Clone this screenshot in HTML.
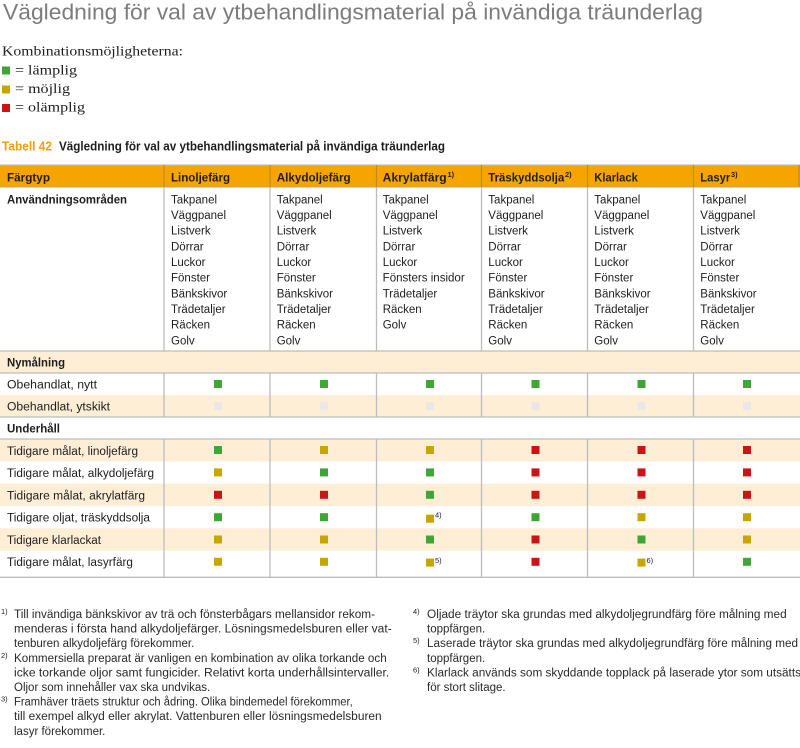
<!DOCTYPE html>
<html><head><meta charset="utf-8"><style>
html,body{margin:0;padding:0;background:#fff;width:800px;height:748px;overflow:hidden}
svg{display:block}
text{font-family:"Liberation Sans",sans-serif;fill:#1e1e1e}
.b{font-weight:bold}
.c{font-size:11.5px}
.s{font-size:7.5px}
.f{font-size:11.5px;fill:#2a2a2a}
</style></head><body>
<svg width="800" height="748" viewBox="0 0 800 748" xmlns="http://www.w3.org/2000/svg">
<!-- Title -->
<text x="3" y="19.5" style="font-size:22.5px;fill:#7c7c7c" textLength="700" lengthAdjust="spacingAndGlyphs">Vägledning för val av ytbehandlingsmaterial på invändiga träunderlag</text>
<!-- Legend -->
<text x="2" y="55.5" style="font-family:'Liberation Serif',serif;font-size:14px" textLength="181" lengthAdjust="spacingAndGlyphs">Kombinationsmöjligheterna:</text>
<rect x="2" y="66.5" width="8" height="8" fill="#3fa535"/>
<rect x="2" y="85.5" width="8" height="8" fill="#c8a600"/>
<rect x="2" y="104" width="8" height="8" fill="#cc1316"/>
<text x="15" y="74.5" style="font-family:'Liberation Serif',serif;font-size:14px" textLength="62" lengthAdjust="spacingAndGlyphs">= lämplig</text>
<text x="15" y="93" style="font-family:'Liberation Serif',serif;font-size:14px" textLength="55" lengthAdjust="spacingAndGlyphs">= möjlig</text>
<text x="15" y="111.5" style="font-family:'Liberation Serif',serif;font-size:14px" textLength="70" lengthAdjust="spacingAndGlyphs">= olämplig</text>
<!-- Caption -->
<text x="2" y="150.5" class="b" style="font-size:12.5px;fill:#f0a000" textLength="50" lengthAdjust="spacingAndGlyphs">Tabell 42</text>
<text x="59" y="150.5" class="b" style="font-size:12.5px" textLength="386" lengthAdjust="spacingAndGlyphs">Vägledning för val av ytbehandlingsmaterial på invändiga träunderlag</text>

<!-- Table backgrounds -->
<rect x="0" y="165" width="800" height="22" fill="#f6a500"/>
<rect x="0" y="351" width="800" height="22" fill="#fdeed5"/>
<rect x="0" y="395" width="800" height="22" fill="#fdeed5"/>
<rect x="0" y="439" width="800" height="22.3" fill="#fdeed5"/>
<rect x="0" y="483.7" width="800" height="22.3" fill="#fdeed5"/>
<rect x="0" y="528.3" width="800" height="22.4" fill="#fdeed5"/>

<!-- horizontal lines -->
<g stroke="#bdbdbd" stroke-width="1.3">
<line x1="0" y1="165" x2="800" y2="165"/>
<line x1="0" y1="351" x2="800" y2="351"/>
<line x1="0" y1="373" x2="800" y2="373"/>
<line x1="0" y1="417" x2="800" y2="417"/>
<line x1="0" y1="439" x2="800" y2="439"/>
<line x1="0" y1="577.3" x2="800" y2="577.3"/>
</g>
<line x1="0" y1="187" x2="800" y2="187" stroke="#c9a46a" stroke-width="1"/>
<!-- header dividers -->
<g stroke="#c08a20" stroke-width="1.2">
<line x1="164" y1="165" x2="164" y2="187"/>
<line x1="270" y1="165" x2="270" y2="187"/>
<line x1="376.5" y1="165" x2="376.5" y2="187"/>
<line x1="481.5" y1="165" x2="481.5" y2="187"/>
<line x1="587.5" y1="165" x2="587.5" y2="187"/>
<line x1="693.5" y1="165" x2="693.5" y2="187"/>
<line x1="799" y1="165" x2="799" y2="187"/>
</g>
<!-- body dividers -->
<g stroke="#bdbdbd" stroke-width="1.3">
<path d="M164 187V351M270 187V351M376.5 187V351M481.5 187V351M587.5 187V351M693.5 187V351"/>
<path d="M164 373V417M270 373V417M376.5 373V417M481.5 373V417M587.5 373V417M693.5 373V417"/>
<path d="M164 439V577M270 439V577M376.5 439V577M481.5 439V577M587.5 439V577M693.5 439V577"/>
</g>

<!-- Header text -->
<text x="7" y="181.5" class="b" style="font-size:12px" textLength="43" lengthAdjust="spacingAndGlyphs">Färgtyp</text>
<text x="171" y="181.5" class="b" style="font-size:12px" textLength="59" lengthAdjust="spacingAndGlyphs">Linoljefärg</text>
<text x="276.7" y="181.5" class="b" style="font-size:12px" textLength="74" lengthAdjust="spacingAndGlyphs">Alkydoljefärg</text>
<text x="382.7" y="181.5" class="b" style="font-size:12px" textLength="64" lengthAdjust="spacingAndGlyphs">Akrylatfärg</text>
<text x="447.5" y="177" class="b s">1)</text>
<text x="488.3" y="181.5" class="b" style="font-size:12px" textLength="76" lengthAdjust="spacingAndGlyphs">Träskyddsolja</text>
<text x="565" y="177" class="b s">2)</text>
<text x="594.3" y="181.5" class="b" style="font-size:12px" textLength="43.5" lengthAdjust="spacingAndGlyphs">Klarlack</text>
<text x="700.3" y="181.5" class="b" style="font-size:12px" textLength="30" lengthAdjust="spacingAndGlyphs">Lasyr</text>
<text x="731" y="177" class="b s">3)</text>

<!-- Usage row -->
<text x="7" y="203.3" class="b" style="font-size:12px" textLength="120" lengthAdjust="spacingAndGlyphs">Användningsområden</text>
<g class="c">
<text x="171" y="203.3" class="c">Takpanel</text><text x="171" y="219" class="c">Väggpanel</text><text x="171" y="234.6" class="c">Listverk</text><text x="171" y="250.3" class="c">Dörrar</text><text x="171" y="266" class="c">Luckor</text><text x="171" y="281.6" class="c">Fönster</text><text x="171" y="297.3" class="c">Bänkskivor</text><text x="171" y="313" class="c">Trädetaljer</text><text x="171" y="328.6" class="c">Räcken</text><text x="171" y="344.3" class="c">Golv</text>
<text x="276.7" y="203.3" class="c">Takpanel</text><text x="276.7" y="219" class="c">Väggpanel</text><text x="276.7" y="234.6" class="c">Listverk</text><text x="276.7" y="250.3" class="c">Dörrar</text><text x="276.7" y="266" class="c">Luckor</text><text x="276.7" y="281.6" class="c">Fönster</text><text x="276.7" y="297.3" class="c">Bänkskivor</text><text x="276.7" y="313" class="c">Trädetaljer</text><text x="276.7" y="328.6" class="c">Räcken</text><text x="276.7" y="344.3" class="c">Golv</text>
<text x="382.7" y="203.3" class="c">Takpanel</text><text x="382.7" y="219" class="c">Väggpanel</text><text x="382.7" y="234.6" class="c">Listverk</text><text x="382.7" y="250.3" class="c">Dörrar</text><text x="382.7" y="266" class="c">Luckor</text><text x="382.7" y="281.6" class="c" textLength="82" lengthAdjust="spacingAndGlyphs">Fönsters insidor</text><text x="382.7" y="297.3" class="c">Trädetaljer</text><text x="382.7" y="313" class="c">Räcken</text><text x="382.7" y="328.6" class="c">Golv</text>
<text x="488.3" y="203.3" class="c">Takpanel</text><text x="488.3" y="219" class="c">Väggpanel</text><text x="488.3" y="234.6" class="c">Listverk</text><text x="488.3" y="250.3" class="c">Dörrar</text><text x="488.3" y="266" class="c">Luckor</text><text x="488.3" y="281.6" class="c">Fönster</text><text x="488.3" y="297.3" class="c">Bänkskivor</text><text x="488.3" y="313" class="c">Trädetaljer</text><text x="488.3" y="328.6" class="c">Räcken</text><text x="488.3" y="344.3" class="c">Golv</text>
<text x="594.3" y="203.3" class="c">Takpanel</text><text x="594.3" y="219" class="c">Väggpanel</text><text x="594.3" y="234.6" class="c">Listverk</text><text x="594.3" y="250.3" class="c">Dörrar</text><text x="594.3" y="266" class="c">Luckor</text><text x="594.3" y="281.6" class="c">Fönster</text><text x="594.3" y="297.3" class="c">Bänkskivor</text><text x="594.3" y="313" class="c">Trädetaljer</text><text x="594.3" y="328.6" class="c">Räcken</text><text x="594.3" y="344.3" class="c">Golv</text>
<text x="700.3" y="203.3" class="c">Takpanel</text><text x="700.3" y="219" class="c">Väggpanel</text><text x="700.3" y="234.6" class="c">Listverk</text><text x="700.3" y="250.3" class="c">Dörrar</text><text x="700.3" y="266" class="c">Luckor</text><text x="700.3" y="281.6" class="c">Fönster</text><text x="700.3" y="297.3" class="c">Bänkskivor</text><text x="700.3" y="313" class="c">Trädetaljer</text><text x="700.3" y="328.6" class="c">Räcken</text><text x="700.3" y="344.3" class="c">Golv</text>
</g>

<!-- Row labels -->
<text x="7" y="366.5" class="b" style="font-size:12px" textLength="58" lengthAdjust="spacingAndGlyphs">Nymålning</text>
<text x="7" y="388.5" class="c" textLength="90" lengthAdjust="spacingAndGlyphs">Obehandlat, nytt</text>
<text x="7" y="410.5" class="c" textLength="103" lengthAdjust="spacingAndGlyphs">Obehandlat, ytskikt</text>
<text x="7" y="432.5" class="b" style="font-size:12px" textLength="53" lengthAdjust="spacingAndGlyphs">Underhåll</text>
<text x="7" y="454.8" class="c" textLength="131" lengthAdjust="spacingAndGlyphs">Tidigare målat, linoljefärg</text>
<text x="7" y="477" class="c" textLength="147" lengthAdjust="spacingAndGlyphs">Tidigare målat, alkydoljefärg</text>
<text x="7" y="499.4" class="c" textLength="138" lengthAdjust="spacingAndGlyphs">Tidigare målat, akrylatfärg</text>
<text x="7" y="521.7" class="c" textLength="143" lengthAdjust="spacingAndGlyphs">Tidigare oljat, träskyddsolja</text>
<text x="7" y="544" class="c" textLength="94" lengthAdjust="spacingAndGlyphs">Tidigare klarlackat</text>
<text x="7" y="565.8" class="c" textLength="126" lengthAdjust="spacingAndGlyphs">Tidigare målat, lasyrfärg</text>

<!-- Squares -->
<g>
<rect x="214" y="380" width="8" height="8" fill="#3fa535"/>
<rect x="320" y="380" width="8" height="8" fill="#3fa535"/>
<rect x="426" y="380" width="8" height="8" fill="#3fa535"/>
<rect x="531.5" y="380" width="8" height="8" fill="#3fa535"/>
<rect x="637.5" y="380" width="8" height="8" fill="#3fa535"/>
<rect x="743" y="380" width="8" height="8" fill="#3fa535"/>
<rect x="214" y="402" width="8" height="8" fill="#e8e8e8"/>
<rect x="320" y="402" width="8" height="8" fill="#e8e8e8"/>
<rect x="426" y="402" width="8" height="8" fill="#e8e8e8"/>
<rect x="531.5" y="402" width="8" height="8" fill="#e8e8e8"/>
<rect x="637.5" y="402" width="8" height="8" fill="#e8e8e8"/>
<rect x="743" y="402" width="8" height="8" fill="#e8e8e8"/>
<rect x="214" y="446" width="8" height="8" fill="#3fa535"/>
<rect x="320" y="446" width="8" height="8" fill="#c8a600"/>
<rect x="426" y="446" width="8" height="8" fill="#c8a600"/>
<rect x="531.5" y="446" width="8" height="8" fill="#cc1316"/>
<rect x="637.5" y="446" width="8" height="8" fill="#cc1316"/>
<rect x="743" y="446" width="8" height="8" fill="#cc1316"/>
<rect x="214" y="468.4" width="8" height="8" fill="#c8a600"/>
<rect x="320" y="468.4" width="8" height="8" fill="#3fa535"/>
<rect x="426" y="468.4" width="8" height="8" fill="#3fa535"/>
<rect x="531.5" y="468.4" width="8" height="8" fill="#cc1316"/>
<rect x="637.5" y="468.4" width="8" height="8" fill="#cc1316"/>
<rect x="743" y="468.4" width="8" height="8" fill="#cc1316"/>
<rect x="214" y="490.8" width="8" height="8" fill="#cc1316"/>
<rect x="320" y="490.8" width="8" height="8" fill="#cc1316"/>
<rect x="426" y="490.8" width="8" height="8" fill="#3fa535"/>
<rect x="531.5" y="490.8" width="8" height="8" fill="#cc1316"/>
<rect x="637.5" y="490.8" width="8" height="8" fill="#cc1316"/>
<rect x="743" y="490.8" width="8" height="8" fill="#cc1316"/>
<rect x="214" y="513.2" width="8" height="8" fill="#3fa535"/>
<rect x="320" y="513.2" width="8" height="8" fill="#3fa535"/>
<rect x="426" y="514.7" width="8" height="8" fill="#c8a600"/>
<rect x="531.5" y="513.2" width="8" height="8" fill="#3fa535"/>
<rect x="637.5" y="513.2" width="8" height="8" fill="#c8a600"/>
<rect x="743" y="513.2" width="8" height="8" fill="#c8a600"/>
<rect x="214" y="535.5" width="8" height="8" fill="#c8a600"/>
<rect x="320" y="535.5" width="8" height="8" fill="#c8a600"/>
<rect x="426" y="535.5" width="8" height="8" fill="#3fa535"/>
<rect x="531.5" y="535.5" width="8" height="8" fill="#cc1316"/>
<rect x="637.5" y="535.5" width="8" height="8" fill="#3fa535"/>
<rect x="743" y="535.5" width="8" height="8" fill="#c8a600"/>
<rect x="214" y="557.8" width="8" height="8" fill="#c8a600"/>
<rect x="320" y="557.8" width="8" height="8" fill="#c8a600"/>
<rect x="426" y="558.6" width="8" height="8" fill="#c8a600"/>
<rect x="531.5" y="557.8" width="8" height="8" fill="#cc1316"/>
<rect x="637.5" y="558.6" width="8" height="8" fill="#c8a600"/>
<rect x="743" y="557.8" width="8" height="8" fill="#3fa535"/>
</g>
<text x="435" y="517.5" class="s">4)</text>
<text x="435" y="563" class="s">5)</text>
<text x="646.5" y="563" class="s">6)</text>

<!-- Footnotes left -->
<text x="1" y="614" class="s">1)</text>
<text x="14" y="618" class="f" textLength="361" lengthAdjust="spacingAndGlyphs">Till invändiga bänkskivor av trä och fönsterbågars mellansidor rekom-</text>
<text x="14" y="632.6" class="f" textLength="377.7" lengthAdjust="spacingAndGlyphs">menderas i första hand alkydoljefärger. Lösningsmedelsburen eller vat-</text>
<text x="14" y="647.2" class="f">tenburen alkydoljefärg förekommer.</text>
<text x="1" y="657.8" class="s">2)</text>
<text x="14" y="661.8" class="f" textLength="372.7" lengthAdjust="spacingAndGlyphs">Kommersiella preparat är vanligen en kombination av olika torkande och</text>
<text x="14" y="676.4" class="f" textLength="375.3" lengthAdjust="spacingAndGlyphs">icke torkande oljor samt fungicider. Relativt korta underhållsintervaller.</text>
<text x="14" y="691" class="f">Oljor som innehåller vax ska undvikas.</text>
<text x="1" y="701.6" class="s">3)</text>
<text x="14" y="705.6" class="f" textLength="338.7" lengthAdjust="spacingAndGlyphs">Framhäver träets struktur och ådring. Olika bindemedel förekommer,</text>
<text x="14" y="720.2" class="f" textLength="367.7" lengthAdjust="spacingAndGlyphs">till exempel alkyd eller akrylat. Vattenburen eller lösningsmedelsburen</text>
<text x="14" y="734.8" class="f">lasyr förekommer.</text>

<!-- Footnotes right -->
<text x="413" y="614" class="s">4)</text>
<text x="427" y="618" class="f" textLength="359.7" lengthAdjust="spacingAndGlyphs">Oljade träytor ska grundas med alkydoljegrundfärg före målning med</text>
<text x="427" y="632.6" class="f">toppfärgen.</text>
<text x="413" y="643.2" class="s">5)</text>
<text x="427" y="647.2" class="f" textLength="371" lengthAdjust="spacingAndGlyphs">Laserade träytor ska grundas med alkydoljegrundfärg före målning med</text>
<text x="427" y="661.8" class="f">toppfärgen.</text>
<text x="413" y="672.4" class="s">6)</text>
<text x="427" y="676.4" class="f" textLength="374" lengthAdjust="spacingAndGlyphs">Klarlack används som skyddande topplack på laserade ytor som utsätts</text>
<text x="427" y="691" class="f">för stort slitage.</text>
</svg>
</body></html>
